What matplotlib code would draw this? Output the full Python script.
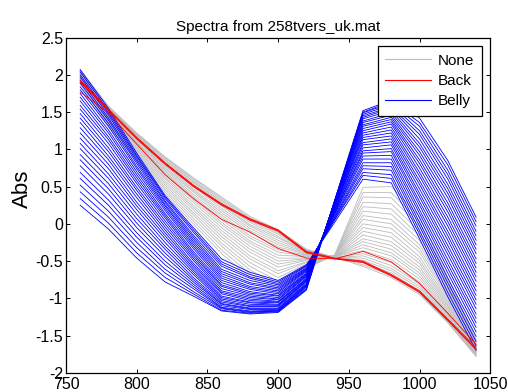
import numpy as np
import matplotlib
matplotlib.use("Agg")
import matplotlib.pyplot as plt
from matplotlib.lines import Line2D
from matplotlib.ticker import FormatStrFormatter

plt.rcParams['font.family'] = ['Liberation Sans', 'DejaVu Sans']
plt.rcParams['axes.unicode_minus'] = False

# wavelengths (nm) -- one row of each table below per wavelength, one column per spectrum
wavelength = [760, 780, 800, 820, 840, 860, 880, 900, 920, 940, 960, 980, 1000, 1020, 1040]

# class "None" (grey)
none_abs = [
    [2.07, 2.07, 2.06, 2.06, 2.05, 2.04, 2.04, 2.03, 2.03, 2.02, 2.01, 2.00, 1.99, 1.99, 1.98, 1.97, 1.96, 1.95, 1.94, 1.93, 1.92, 1.90, 1.89, 1.88],
    [1.58, 1.57, 1.57, 1.56, 1.55, 1.54, 1.53, 1.52, 1.51, 1.50, 1.49, 1.48, 1.47, 1.46, 1.44, 1.43, 1.41, 1.40, 1.38, 1.37, 1.35, 1.34, 1.32, 1.30],
    [1.22, 1.21, 1.20, 1.19, 1.18, 1.17, 1.16, 1.15, 1.13, 1.12, 1.10, 1.09, 1.07, 1.06, 1.04, 1.02, 1.00, 0.98, 0.96, 0.94, 0.92, 0.90, 0.87, 0.85],
    [0.90, 0.89, 0.88, 0.86, 0.85, 0.83, 0.82, 0.80, 0.78, 0.76, 0.74, 0.72, 0.70, 0.68, 0.66, 0.63, 0.61, 0.58, 0.55, 0.52, 0.49, 0.46, 0.43, 0.40],
    [0.62, 0.61, 0.59, 0.57, 0.56, 0.54, 0.52, 0.50, 0.47, 0.45, 0.43, 0.40, 0.37, 0.35, 0.32, 0.29, 0.25, 0.22, 0.19, 0.15, 0.12, 0.08, 0.04, 0.00],
    [0.36, 0.34, 0.32, 0.30, 0.28, 0.26, 0.24, 0.21, 0.18, 0.15, 0.12, 0.09, 0.06, 0.02, -0.01, -0.05, -0.09, -0.13, -0.17, -0.21, -0.26, -0.30, -0.35, -0.40],
    [0.10, 0.08, 0.06, 0.04, 0.02, -0.01, -0.03, -0.06, -0.09, -0.12, -0.16, -0.19, -0.23, -0.26, -0.30, -0.34, -0.38, -0.43, -0.47, -0.52, -0.57, -0.62, -0.67, -0.72],
    [-0.08, -0.10, -0.12, -0.14, -0.17, -0.19, -0.22, -0.25, -0.28, -0.31, -0.35, -0.38, -0.42, -0.46, -0.50, -0.54, -0.58, -0.63, -0.67, -0.72, -0.77, -0.82, -0.88, -0.93],
    [-0.34, -0.35, -0.35, -0.36, -0.37, -0.37, -0.38, -0.39, -0.40, -0.41, -0.42, -0.43, -0.44, -0.46, -0.47, -0.48, -0.49, -0.51, -0.52, -0.54, -0.55, -0.57, -0.58, -0.60],
    [-0.45, -0.45, -0.45, -0.45, -0.45, -0.45, -0.45, -0.44, -0.44, -0.44, -0.44, -0.44, -0.44, -0.44, -0.43, -0.43, -0.43, -0.43, -0.43, -0.43, -0.42, -0.42, -0.42, -0.42],
    [-0.57, -0.55, -0.52, -0.49, -0.46, -0.43, -0.40, -0.36, -0.32, -0.28, -0.24, -0.20, -0.15, -0.10, -0.05, 0.00, 0.06, 0.11, 0.17, 0.23, 0.29, 0.36, 0.42, 0.49],
    [-0.72, -0.69, -0.66, -0.63, -0.60, -0.56, -0.52, -0.48, -0.43, -0.39, -0.34, -0.29, -0.24, -0.18, -0.12, -0.06, 0.00, 0.06, 0.13, 0.20, 0.27, 0.35, 0.42, 0.50],
    [-0.95, -0.93, -0.90, -0.87, -0.84, -0.81, -0.78, -0.74, -0.70, -0.66, -0.62, -0.58, -0.53, -0.49, -0.44, -0.38, -0.33, -0.28, -0.22, -0.16, -0.10, -0.03, 0.03, 0.10],
    [-1.33, -1.32, -1.30, -1.28, -1.27, -1.25, -1.23, -1.21, -1.19, -1.16, -1.14, -1.11, -1.09, -1.06, -1.03, -1.00, -0.97, -0.94, -0.90, -0.87, -0.83, -0.80, -0.76, -0.72],
    [-1.78, -1.77, -1.77, -1.76, -1.76, -1.75, -1.74, -1.73, -1.73, -1.72, -1.71, -1.70, -1.69, -1.68, -1.67, -1.66, -1.64, -1.63, -1.62, -1.61, -1.59, -1.58, -1.56, -1.55],
]

# class "Back" (red)
back_abs = [
    [1.93, 1.91, 1.90, 1.77],
    [1.54, 1.53, 1.52, 1.49],
    [1.16, 1.15, 1.14, 1.07],
    [0.82, 0.81, 0.80, 0.66],
    [0.52, 0.51, 0.50, 0.34],
    [0.27, 0.26, 0.25, 0.06],
    [0.07, 0.06, 0.05, -0.11],
    [-0.08, -0.09, -0.10, -0.33],
    [-0.37, -0.38, -0.39, -0.46],
    [-0.46, -0.47, -0.47, -0.47],
    [-0.50, -0.51, -0.52, -0.37],
    [-0.68, -0.69, -0.70, -0.51],
    [-0.90, -0.91, -0.92, -0.80],
    [-1.28, -1.29, -1.30, -1.20],
    [-1.66, -1.68, -1.69, -1.62],
]

# class "Belly" (blue)
belly_abs = [
    [2.07, 2.04, 2.00, 1.97, 1.93, 1.89, 1.84, 1.80, 1.75, 1.70, 1.65, 1.59, 1.54, 1.48, 1.42, 1.36, 1.29, 1.22, 1.15, 1.08, 1.01, 0.93, 0.86, 0.78, 0.69, 0.61, 0.52, 0.43, 0.34, 0.25],
    [1.55, 1.52, 1.49, 1.46, 1.42, 1.39, 1.35, 1.31, 1.26, 1.22, 1.17, 1.13, 1.08, 1.02, 0.97, 0.91, 0.86, 0.80, 0.74, 0.67, 0.61, 0.54, 0.47, 0.40, 0.32, 0.25, 0.17, 0.09, 0.01, -0.07],
    [0.95, 0.92, 0.90, 0.87, 0.84, 0.81, 0.77, 0.74, 0.70, 0.66, 0.62, 0.58, 0.54, 0.49, 0.45, 0.40, 0.35, 0.29, 0.24, 0.19, 0.13, 0.07, 0.01, -0.05, -0.12, -0.18, -0.25, -0.32, -0.39, -0.46],
    [0.38, 0.36, 0.34, 0.31, 0.29, 0.26, 0.24, 0.21, 0.18, 0.14, 0.11, 0.08, 0.04, 0.00, -0.04, -0.08, -0.12, -0.16, -0.20, -0.25, -0.30, -0.34, -0.39, -0.44, -0.50, -0.55, -0.61, -0.66, -0.72, -0.78],
    [-0.05, -0.08, -0.11, -0.15, -0.18, -0.21, -0.24, -0.27, -0.30, -0.33, -0.37, -0.40, -0.43, -0.46, -0.49, -0.53, -0.56, -0.59, -0.62, -0.65, -0.68, -0.72, -0.75, -0.78, -0.81, -0.84, -0.87, -0.91, -0.94, -0.97],
    [-0.47, -0.51, -0.54, -0.57, -0.61, -0.64, -0.67, -0.70, -0.73, -0.76, -0.79, -0.82, -0.84, -0.87, -0.90, -0.92, -0.94, -0.97, -0.99, -1.01, -1.03, -1.05, -1.07, -1.08, -1.10, -1.12, -1.13, -1.14, -1.16, -1.17],
    [-0.65, -0.68, -0.71, -0.73, -0.76, -0.79, -0.81, -0.84, -0.86, -0.88, -0.91, -0.93, -0.95, -0.97, -0.99, -1.01, -1.03, -1.05, -1.06, -1.08, -1.10, -1.11, -1.13, -1.14, -1.15, -1.17, -1.18, -1.19, -1.20, -1.21],
    [-0.76, -0.78, -0.80, -0.82, -0.84, -0.86, -0.88, -0.90, -0.92, -0.94, -0.96, -0.97, -0.99, -1.01, -1.02, -1.04, -1.05, -1.06, -1.08, -1.09, -1.10, -1.11, -1.13, -1.14, -1.15, -1.16, -1.17, -1.17, -1.18, -1.19],
    [-0.55, -0.56, -0.57, -0.59, -0.60, -0.61, -0.62, -0.63, -0.64, -0.66, -0.67, -0.68, -0.69, -0.70, -0.71, -0.73, -0.74, -0.75, -0.76, -0.77, -0.78, -0.80, -0.81, -0.82, -0.83, -0.84, -0.85, -0.87, -0.88, -0.89],
    [0.02, 0.05, 0.06, 0.08, 0.09, 0.11, 0.13, 0.14, 0.16, 0.16, 0.18, 0.19, 0.20, 0.22, 0.23, 0.23, 0.24, 0.25, 0.26, 0.27, 0.28, 0.28, 0.29, 0.30, 0.30, 0.31, 0.31, 0.31, 0.31, 0.32],
    [0.60, 0.65, 0.69, 0.74, 0.78, 0.82, 0.87, 0.91, 0.95, 0.98, 1.02, 1.06, 1.09, 1.13, 1.16, 1.19, 1.22, 1.25, 1.28, 1.31, 1.33, 1.36, 1.38, 1.41, 1.43, 1.45, 1.47, 1.49, 1.50, 1.52],
    [0.55, 0.61, 0.66, 0.72, 0.77, 0.82, 0.87, 0.92, 0.97, 1.01, 1.06, 1.10, 1.14, 1.18, 1.22, 1.26, 1.30, 1.34, 1.37, 1.40, 1.43, 1.46, 1.49, 1.52, 1.55, 1.57, 1.60, 1.62, 1.64, 1.66],
    [-0.20, -0.14, -0.09, -0.03, 0.02, 0.08, 0.14, 0.19, 0.25, 0.30, 0.36, 0.41, 0.47, 0.53, 0.58, 0.64, 0.69, 0.75, 0.81, 0.86, 0.92, 0.97, 1.03, 1.08, 1.14, 1.20, 1.25, 1.31, 1.36, 1.42],
    [-0.98, -0.92, -0.85, -0.79, -0.73, -0.66, -0.60, -0.54, -0.48, -0.41, -0.35, -0.29, -0.22, -0.16, -0.10, -0.03, 0.03, 0.09, 0.16, 0.22, 0.28, 0.35, 0.41, 0.47, 0.53, 0.60, 0.66, 0.72, 0.79, 0.85],
    [-1.70, -1.64, -1.58, -1.51, -1.45, -1.39, -1.33, -1.27, -1.21, -1.14, -1.08, -1.02, -0.96, -0.90, -0.84, -0.77, -0.71, -0.65, -0.59, -0.53, -0.47, -0.40, -0.34, -0.28, -0.22, -0.16, -0.10, -0.03, 0.03, 0.09],
]

class_names = ['None', 'Back', 'Belly']
class_colors = ['#bcbcbc', '#ff0000', '#0000ff']

fig = plt.figure(figsize=(5.08, 3.92), dpi=100)
ax = fig.add_axes([0.130, 0.049, 0.835, 0.855])

ax.plot(wavelength, np.array(none_abs), color=class_colors[0], lw=0.6)
ax.plot(wavelength, np.array(belly_abs), color=class_colors[2], lw=0.6)
ax.plot(wavelength, np.array(back_abs), color=class_colors[1], lw=0.6)

ax.set_xlim(750, 1050)
ax.set_ylim(-2, 2.5)
ax.set_xticks([750, 800, 850, 900, 950, 1000, 1050])
ax.set_yticks([-2, -1.5, -1, -0.5, 0, 0.5, 1, 1.5, 2, 2.5])
ax.yaxis.set_major_formatter(FormatStrFormatter('%g'))
ax.tick_params(direction='in', top=True, right=True, length=3, width=0.7,
               labelsize=11.5)
ax.tick_params(axis='x', pad=3)
ax.tick_params(axis='y', pad=2.2)
for sp in ax.spines.values():
    sp.set_linewidth(0.9)

ax.set_title('Spectra from 258tvers_uk.mat', fontsize=11, pad=5)
ax.set_ylabel('Abs', fontsize=16)
ax.yaxis.set_label_coords(-0.078, 0.548)

handles = [Line2D([], [], color=c, lw=0.8) for c in class_colors]
leg = ax.legend(handles, class_names, loc='upper right', bbox_to_anchor=(0.981, 0.975),
                borderaxespad=0, fontsize=11, handlelength=3.0, handletextpad=0.45,
                labelspacing=0.42, borderpad=0.5, fancybox=False, framealpha=1,
                edgecolor='black')
leg.get_frame().set_linewidth(0.9)

fig.savefig('out.png', dpi=100)
